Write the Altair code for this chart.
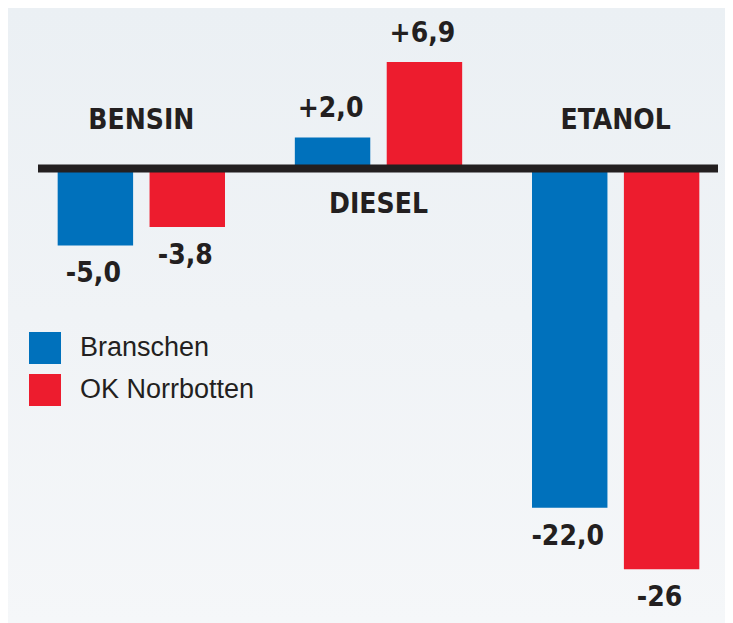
import altair as alt
import pandas as pd

categories = ["BENSIN", "DIESEL", "ETANOL"]
series = ["Branschen", "OK Norrbotten"]
branschen = [-5.0, 2.0, -22.0]
ok_norrbotten = [-3.8, 6.9, -26.0]
branschen_labels = ["-5,0", "+2,0", "-22,0"]
ok_labels = ["-3,8", "+6,9", "-26"]
colors = ["#0071BC", "#ED1C2E"]

rows = []
for i, c in enumerate(categories):
    rows.append({"cat": c, "series": series[0], "value": branschen[i], "label": branschen_labels[i]})
    rows.append({"cat": c, "series": series[1], "value": ok_norrbotten[i], "label": ok_labels[i]})
df = pd.DataFrame(rows)

cat_df = pd.DataFrame({
    "cat": categories,
    "pos": [3.07 if b < 0 else -2.39 for b in branschen],
})

W, H = 717, 615
TXT = "#231F20"
BOLD = "Liberation Sans Narrow, DejaVu Sans Condensed, sans-serif"

x_enc = alt.X("cat:N", sort=categories, axis=None,
              scale=alt.Scale(range=[14.75, 726.25], paddingInner=0, paddingOuter=0))
y_scale = alt.Scale(domain=[-29.48, 10.40], nice=False, zero=False)
xoff = alt.XOffset("series:N", sort=series,
                   scale=alt.Scale(paddingInner=0.179, paddingOuter=0.38))

bg = alt.Chart(pd.DataFrame({"b": [0]})).mark_rect(
    color=alt.LinearGradient(
        gradient="linear", x1=0, x2=0, y1=0, y2=1,
        stops=[alt.GradientStop(color="#EBF0F4", offset=0),
               alt.GradientStop(color="#F0F3F6", offset=0.5),
               alt.GradientStop(color="#F5F7F9", offset=1)],
    )
).encode(x=alt.value(0), x2=alt.value(W), y=alt.value(0), y2=alt.value(H))

bars = alt.Chart(df).mark_bar().encode(
    x=x_enc,
    xOffset=xoff,
    y=alt.Y("value:Q", scale=y_scale, axis=None),
    y2=alt.datum(0),
    color=alt.Color("series:N", sort=series,
                    scale=alt.Scale(domain=series, range=colors),
                    legend=alt.Legend(title=None, orient="none", legendX=21, legendY=324,
                                      symbolType="square", symbolSize=1024,
                                      symbolStrokeWidth=0, symbolOpacity=1,
                                      labelFontSize=27, labelFont="Liberation Sans, Arial, sans-serif",
                                      labelColor=TXT, labelOffset=19, rowPadding=10,
                                      labelLimit=400)),
)

values = alt.Chart(df).transform_calculate(
    ly="datum.value < 0 ? datum.value - 1.88 : datum.value + 1.82"
).mark_text(font=BOLD, fontWeight="bold", fontSize=28, color=TXT,
            baseline="middle", align="center", dx=-2).encode(
    x=x_enc,
    xOffset=xoff,
    y=alt.Y("ly:Q", scale=y_scale, axis=None),
    text="label:N",
)

cat_labels = alt.Chart(cat_df).mark_text(font=BOLD, fontWeight="bold", fontSize=28,
                                         color=TXT, baseline="middle", align="center").encode(
    x=x_enc,
    y=alt.Y("pos:Q", scale=y_scale, axis=None),
    text="cat:N",
)

zero = alt.Chart(pd.DataFrame({"z": [0]})).mark_rule(color=TXT, strokeWidth=8).encode(
    y=alt.Y("z:Q", scale=y_scale, axis=None),
    x=alt.value(30), x2=alt.value(710),
)

chart = alt.layer(bg, bars, zero, values, cat_labels).properties(
    width=W, height=H, autosize=alt.AutoSizeParams(type="none"), padding=0,
    background="#EEF2F6",
).configure_view(stroke=None).configure_legend(padding=0)

chart.save("out.html", embed_options={"renderer": "svg", "actions": False})
